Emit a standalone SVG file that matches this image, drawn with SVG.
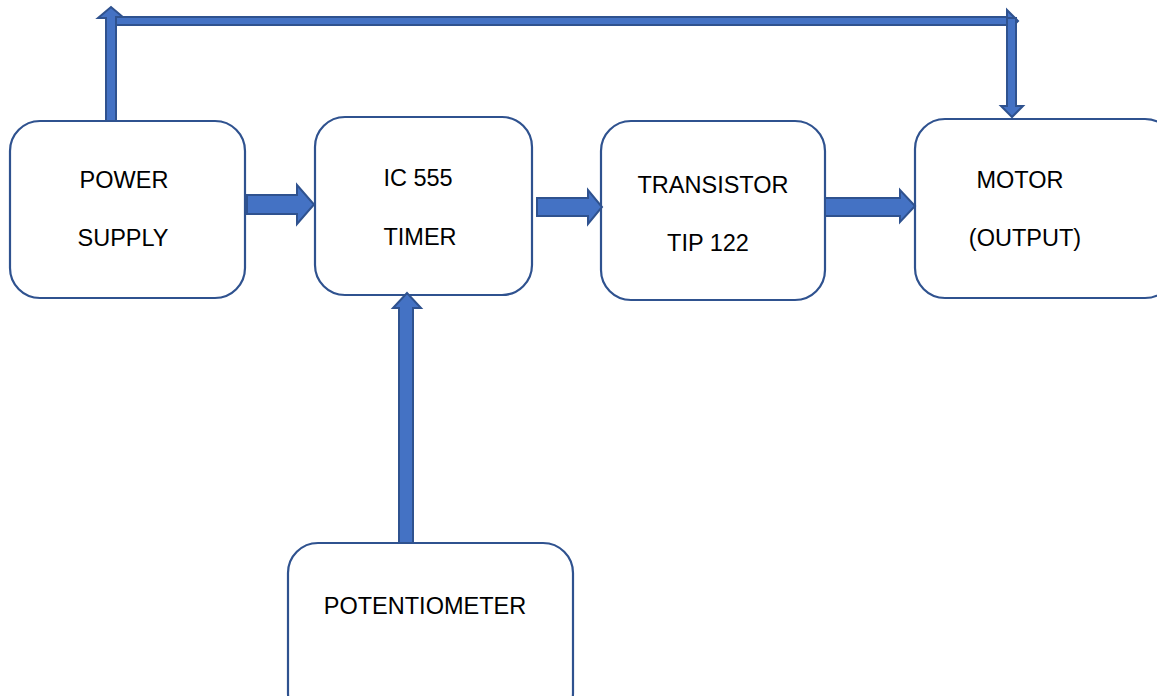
<svg xmlns="http://www.w3.org/2000/svg" width="1157" height="696" viewBox="0 0 1157 696">
<style>
.box{fill:#fff;stroke:#2F528F;stroke-width:2.2}
.lbl{font-family:"Liberation Sans",Arial,sans-serif;font-size:23.5px;fill:#000;text-anchor:middle}
.arr{fill:#4472C4;stroke:#2F528F;stroke-width:2;stroke-linejoin:miter}
</style>
<rect width="1157" height="696" fill="#fff"/>
<g id="power-supply">
<rect class="box" x="10" y="121" width="235" height="177" rx="30"/>
<text class="lbl" x="124" y="188">POWER</text>
<text class="lbl" x="123" y="246">SUPPLY</text>
</g>
<g id="ic555">
<rect class="box" x="315" y="117" width="217" height="178" rx="30"/>
<text class="lbl" x="418" y="186">IC 555</text>
<text class="lbl" x="420" y="245">TIMER</text>
</g>
<g id="transistor">
<rect class="box" x="601" y="121" width="224" height="179" rx="30"/>
<text class="lbl" x="713" y="193">TRANSISTOR</text>
<text class="lbl" x="708" y="251">TIP 122</text>
</g>
<g id="motor">
<rect class="box" x="915" y="119" width="260" height="179" rx="30"/>
<text class="lbl" x="1020" y="188">MOTOR</text>
<text class="lbl" x="1025" y="246">(OUTPUT)</text>
</g>
<g id="potentiometer">
<rect class="box" x="288" y="543" width="285" height="180" rx="30"/>
<text class="lbl" x="425" y="614">POTENTIOMETER</text>
</g>
<g id="connectors">
<polygon class="arr" points="106,121 106,18 98,18 111,7 124,18 116,18 116,121"/>
<polygon class="arr" points="116,17 1007,17 1007,10 1018,21 1007,32 1007,25 116,25"/>
<polygon class="arr" points="1007,18 1016,18 1016,106 1023,106 1012,117 1001,106 1007,106"/>
<polygon class="arr" points="247,195 297,195 297,185 314,204.5 297,224 297,214 247,214"/>
<polygon class="arr" points="537,198 588,198 588,190 602,207 588,224 588,216 537,216"/>
<polygon class="arr" points="825,198 900,198 900,190 915,206 900,222 900,216 825,216"/>
<polygon class="arr" points="399,543 399,308 393,308 407,293 421,308 413,308 413,543"/>
</g>
</svg>
